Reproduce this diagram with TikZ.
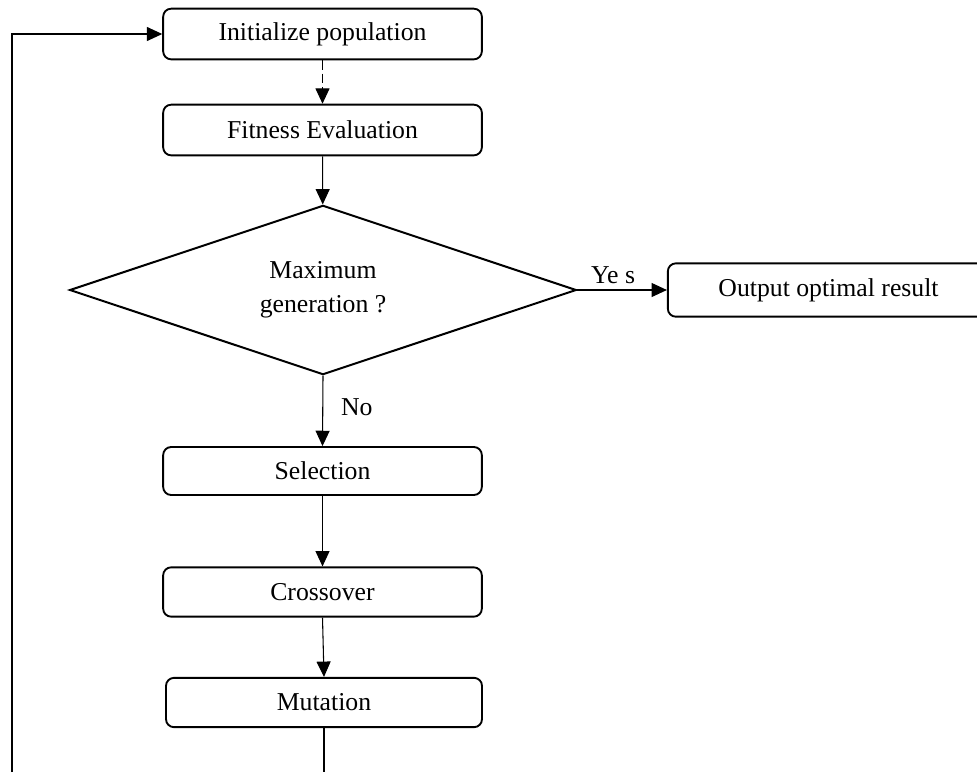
\documentclass[tikz,border=0pt]{standalone}
\usepackage{fontspec}
\setmainfont{Liberation Serif}
\usetikzlibrary{shapes.geometric,arrows.meta}
\begin{document}
\begin{tikzpicture}[x=0.75pt,y=-0.75pt,
  font=\fontsize{19.3}{25.5}\selectfont,
  stepbox/.style={draw, line width=1.4pt, rounded corners=6pt, inner sep=0pt,
    minimum width=239pt, minimum height=38pt},
  decision/.style={draw, line width=1.5pt, diamond, aspect=3, inner sep=0pt,
    minimum width=380pt, minimum height=127pt, align=center},
  arr/.style={line width=0.8pt, -{Triangle[length=11.5pt,width=10.5pt]}},
  plain/.style={line width=0.8pt}]
  \useasboundingbox (0,0) rectangle (977,772);
  \clip (0,0) rectangle (977,772);

  % process steps
  \node[stepbox] (init) at (322.5,34) {Initialize population};
  \node[stepbox] (fit) at (322.5,130) {Fitness Evaluation};
  \node[decision] (max) at (323,290) {Maximum\\generation ?};
  \node[stepbox, minimum width=241pt, minimum height=40pt] (out) at (828.5,290) {Output optimal result};
  \node[stepbox, minimum height=36pt] (sel) at (322.5,471) {Selection};
  \node[stepbox, minimum height=37pt] (cross) at (322.5,592) {Crossover};
  \node[stepbox, minimum width=237pt, minimum height=37pt] (mut) at (324,702.5) {Mutation};

  % open ends at the lower edge
  \coordinate (mutend) at (324,772);
  \coordinate (loopend) at (12,772);

  % connectors
  \draw[arr, dashed, dash pattern=on 7pt off 3pt] (init) -- (fit);
  \draw[arr] (fit) -- (max);
  \draw[arr] (max.east) -- node[above=1pt, pos=0.4] {Ye s} (out.west);
  \draw[arr] (max.south) -- node[right=10pt, pos=0.45] {No} (sel.north);
  \draw[arr] (sel) -- (cross);
  \draw[arr] (cross.south) -- (mut.north);
  \draw[plain] (mut.south) -- (mutend);
  \draw[arr] (loopend) |- (init.west);
\end{tikzpicture}
\end{document}
